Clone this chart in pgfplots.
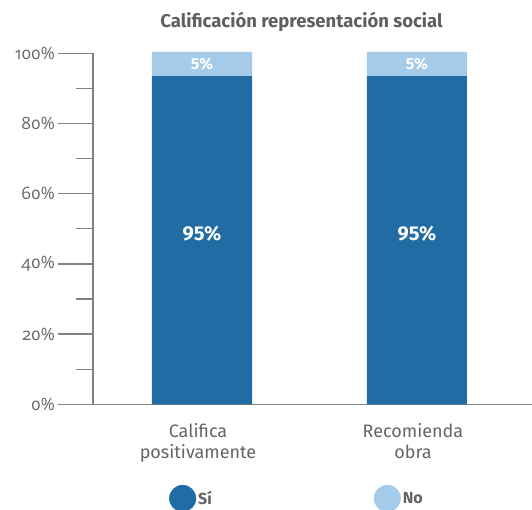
\documentclass[border=0pt]{standalone}
\usepackage{pgfplots}
\pgfplotsset{compat=1.18}
\usepackage{fontspec}
\setmainfont{Fira Sans}
\newfontfamily\tickfont{Open Sans}[Numbers=OldStyle]
\definecolor{darkblue}{RGB}{33,108,165}
\definecolor{lightblue}{RGB}{164,203,233}
\definecolor{titlegray}{RGB}{95,95,95}
\definecolor{textgray}{RGB}{100,100,100}
\definecolor{axisgray}{RGB}{130,130,130}
\begin{document}
\begin{tikzpicture}
\begin{axis}[
  at={(0pt,0pt)}, anchor=south west,
  scale only axis,
  width=439pt, height=351pt,
  ybar stacked,
  bar width=100pt,
  xmin=-0.507, xmax=1.535,
  ymin=0, ymax=100,
  clip=false,
  axis x line=bottom, axis y line=left,
  axis line style={-, draw=axisgray, line width=1.3pt},
  xtick={0,1},
  xticklabels={Califica\\positivamente, Recomienda\\obra},
  xtick style={draw=none},
  xticklabel style={align=center, font=\fontsize{18}{21}\selectfont, text=textgray, yshift=19pt, xshift=-4pt},
  ytick={0,20,40,60,80,100},
  minor ytick={10,30,50,70,90},
  tick align=outside,
  major tick length=35pt,
  minor tick length=17pt,
  ytick style={draw=axisgray, line width=1.3pt},
  minor tick style={draw=axisgray, line width=1.3pt},
  yticklabel={\pgfmathprintnumber{\tick}\%},
  yticklabel style={font=\tickfont\fontsize{17}{20}\selectfont, text=textgray, inner sep=0pt, xshift=-3pt},
  /pgf/number format/assume math mode=true,
  tick label style={/pgf/number format/assume math mode=true},
  title={Calificación representación social},
  title style={font=\bfseries\fontsize{18.5}{22}\selectfont, text=titlegray, at={(0.475,1)}, anchor=south, yshift=12pt},
  point meta=explicit,
  legend style={at={(0.173,-0.268)}, anchor=west, draw=none, fill=none, inner sep=0pt,
    font=\bfseries\fontsize{16}{18}\selectfont, text=textgray,
    /tikz/every even column/.append style={column sep=160pt}},
  legend columns=2,
]
\addplot[fill=darkblue, draw=none,
  legend image code/.code={\fill[darkblue] (0pt,0pt) circle (13.5pt);},
  nodes near coords={\pgfmathprintnumber{\pgfplotspointmeta}\%},
  every node near coord/.append style={anchor=center, yshift=6.5pt, text=white, font=\bfseries\fontsize{20}{22}\selectfont}]
  coordinates {(0,93.5) [95] (1,93.5) [95]};
\addlegendentry{Sí}
\addplot[fill=lightblue, draw=none,
  legend image code/.code={\fill[lightblue] (0pt,0pt) circle (13.5pt);},
  nodes near coords={\pgfmathprintnumber{\pgfplotspointmeta}\%},
  every node near coord/.append style={anchor=center, yshift=0pt, text=white, font=\bfseries\fontsize{16}{18}\selectfont}]
  coordinates {(0,6.9) [5] (1,6.9) [5]};
\addlegendentry{No}
\end{axis}
\pgfresetboundingbox
\useasboundingbox (-93pt,-104.7pt) rectangle (439pt,404.3pt);
\end{tikzpicture}
\end{document}
